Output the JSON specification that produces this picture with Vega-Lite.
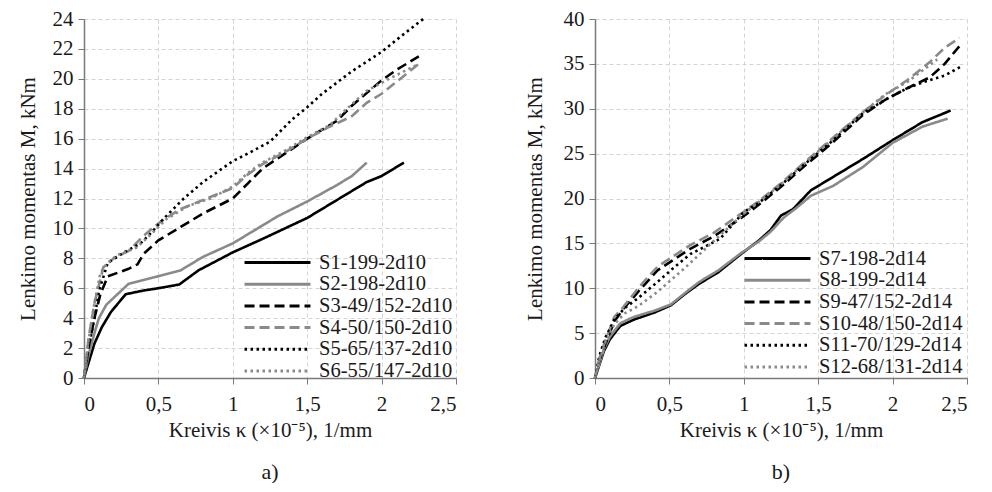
{
  "$schema": "https://vega.github.io/schema/vega-lite/v6.json",
  "padding": {"left": 17, "top": 8, "right": 5, "bottom": 0},
  "background": "white",
  "spacing": 67,
  "config": {
    "font": "Liberation Serif",
    "view": {"stroke": null},
    "axis": {
      "labelFont": "Liberation Serif", "titleFont": "Liberation Serif",
      "labelFontSize": 21, "titleFontSize": 21, "titleFontWeight": "normal",
      "labelColor": "#1a1a1a", "titleColor": "#1a1a1a",
      "gridDash": [4, 3], "gridColor": "#d4d4d4", "gridWidth": 1,
      "domainColor": "#7a7a7a", "domainWidth": 1.5, "tickColor": "#7a7a7a", "tickSize": 6
    },
    "legend": {
      "labelFont": "Liberation Serif", "labelFontSize": 20.5, "labelColor": "#1a1a1a",
      "symbolType": "M-3.77,0H3.77", "symbolSize": 306, "symbolStrokeWidth": 3,
      "rowPadding": 0.7, "labelOffset": 31, "orient": "none", "padding": 0,
      "labelLimit": 300
    },
    "title": {"font": "Liberation Serif", "fontSize": 22, "fontWeight": "normal", "color": "#1a1a1a", "orient": "bottom", "offset": 22}
  },
  "datasets": {
    "a": [
      {"s":"S1-199-2d10","x":0,"y":0},{"s":"S1-199-2d10","x":0.03,"y":1},{"s":"S1-199-2d10","x":0.07,"y":2.3},{"s":"S1-199-2d10","x":0.12,"y":3.4},{"s":"S1-199-2d10","x":0.18,"y":4.4},{"s":"S1-199-2d10","x":0.28,"y":5.6},{"s":"S1-199-2d10","x":0.4,"y":5.85},{"s":"S1-199-2d10","x":0.5,"y":6.0},{"s":"S1-199-2d10","x":0.64,"y":6.25},{"s":"S1-199-2d10","x":0.77,"y":7.2},{"s":"S1-199-2d10","x":1.0,"y":8.4},{"s":"S1-199-2d10","x":1.2,"y":9.3},{"s":"S1-199-2d10","x":1.5,"y":10.7},{"s":"S1-199-2d10","x":1.7,"y":11.9},{"s":"S1-199-2d10","x":1.9,"y":13.1},{"s":"S1-199-2d10","x":2.0,"y":13.5},{"s":"S1-199-2d10","x":2.15,"y":14.4},
      {"s":"S2-198-2d10","x":0,"y":0},{"s":"S2-198-2d10","x":0.03,"y":1.5},{"s":"S2-198-2d10","x":0.07,"y":3},{"s":"S2-198-2d10","x":0.1,"y":4},{"s":"S2-198-2d10","x":0.15,"y":4.9},{"s":"S2-198-2d10","x":0.3,"y":6.3},{"s":"S2-198-2d10","x":0.5,"y":6.8},{"s":"S2-198-2d10","x":0.65,"y":7.2},{"s":"S2-198-2d10","x":0.8,"y":8.1},{"s":"S2-198-2d10","x":1.0,"y":9.0},{"s":"S2-198-2d10","x":1.2,"y":10.2},{"s":"S2-198-2d10","x":1.3,"y":10.8},{"s":"S2-198-2d10","x":1.5,"y":11.8},{"s":"S2-198-2d10","x":1.7,"y":12.9},{"s":"S2-198-2d10","x":1.8,"y":13.5},{"s":"S2-198-2d10","x":1.9,"y":14.4},
      {"s":"S3-49/152-2d10","x":0,"y":0},{"s":"S3-49/152-2d10","x":0.03,"y":2},{"s":"S3-49/152-2d10","x":0.07,"y":4},{"s":"S3-49/152-2d10","x":0.11,"y":5.6},{"s":"S3-49/152-2d10","x":0.16,"y":6.8},{"s":"S3-49/152-2d10","x":0.3,"y":7.3},{"s":"S3-49/152-2d10","x":0.36,"y":7.6},{"s":"S3-49/152-2d10","x":0.4,"y":8.3},{"s":"S3-49/152-2d10","x":0.5,"y":9.2},{"s":"S3-49/152-2d10","x":0.65,"y":10.1},{"s":"S3-49/152-2d10","x":0.8,"y":11.0},{"s":"S3-49/152-2d10","x":1.0,"y":12.0},{"s":"S3-49/152-2d10","x":1.1,"y":13.0},{"s":"S3-49/152-2d10","x":1.2,"y":14.0},{"s":"S3-49/152-2d10","x":1.35,"y":15.0},{"s":"S3-49/152-2d10","x":1.5,"y":16.0},{"s":"S3-49/152-2d10","x":1.7,"y":17.2},{"s":"S3-49/152-2d10","x":1.8,"y":18.2},{"s":"S3-49/152-2d10","x":2.0,"y":19.9},{"s":"S3-49/152-2d10","x":2.1,"y":20.6},{"s":"S3-49/152-2d10","x":2.25,"y":21.5},
      {"s":"S4-50/150-2d10","x":0,"y":0},{"s":"S4-50/150-2d10","x":0.03,"y":2.6},{"s":"S4-50/150-2d10","x":0.07,"y":5},{"s":"S4-50/150-2d10","x":0.13,"y":7.4},{"s":"S4-50/150-2d10","x":0.2,"y":8.0},{"s":"S4-50/150-2d10","x":0.3,"y":8.5},{"s":"S4-50/150-2d10","x":0.4,"y":9.5},{"s":"S4-50/150-2d10","x":0.52,"y":10.5},{"s":"S4-50/150-2d10","x":0.65,"y":11.3},{"s":"S4-50/150-2d10","x":0.8,"y":11.9},{"s":"S4-50/150-2d10","x":1.0,"y":12.7},{"s":"S4-50/150-2d10","x":1.1,"y":13.6},{"s":"S4-50/150-2d10","x":1.2,"y":14.3},{"s":"S4-50/150-2d10","x":1.35,"y":15.1},{"s":"S4-50/150-2d10","x":1.5,"y":16.0},{"s":"S4-50/150-2d10","x":1.65,"y":16.8},{"s":"S4-50/150-2d10","x":1.8,"y":17.5},{"s":"S4-50/150-2d10","x":1.9,"y":18.4},{"s":"S4-50/150-2d10","x":2.0,"y":19.0},{"s":"S4-50/150-2d10","x":2.1,"y":19.8},{"s":"S4-50/150-2d10","x":2.25,"y":21.0},
      {"s":"S5-65/137-2d10","x":0,"y":0},{"s":"S5-65/137-2d10","x":0.03,"y":2},{"s":"S5-65/137-2d10","x":0.07,"y":4},{"s":"S5-65/137-2d10","x":0.1,"y":5.8},{"s":"S5-65/137-2d10","x":0.16,"y":7.7},{"s":"S5-65/137-2d10","x":0.27,"y":8.4},{"s":"S5-65/137-2d10","x":0.38,"y":9.0},{"s":"S5-65/137-2d10","x":0.46,"y":9.8},{"s":"S5-65/137-2d10","x":0.54,"y":10.7},{"s":"S5-65/137-2d10","x":0.67,"y":12.0},{"s":"S5-65/137-2d10","x":0.8,"y":13.1},{"s":"S5-65/137-2d10","x":1.0,"y":14.5},{"s":"S5-65/137-2d10","x":1.1,"y":15.0},{"s":"S5-65/137-2d10","x":1.25,"y":15.8},{"s":"S5-65/137-2d10","x":1.4,"y":17.3},{"s":"S5-65/137-2d10","x":1.5,"y":18.1},{"s":"S5-65/137-2d10","x":1.6,"y":19.0},{"s":"S5-65/137-2d10","x":1.8,"y":20.5},{"s":"S5-65/137-2d10","x":2.0,"y":21.8},{"s":"S5-65/137-2d10","x":2.15,"y":23.0},{"s":"S5-65/137-2d10","x":2.28,"y":24.0},
      {"s":"S6-55/147-2d10","x":0,"y":0},{"s":"S6-55/147-2d10","x":0.03,"y":2.5},{"s":"S6-55/147-2d10","x":0.07,"y":5},{"s":"S6-55/147-2d10","x":0.11,"y":7},{"s":"S6-55/147-2d10","x":0.15,"y":7.6},{"s":"S6-55/147-2d10","x":0.22,"y":8.2},{"s":"S6-55/147-2d10","x":0.35,"y":8.7},{"s":"S6-55/147-2d10","x":0.45,"y":9.6},{"s":"S6-55/147-2d10","x":0.55,"y":10.6},{"s":"S6-55/147-2d10","x":0.7,"y":11.5},{"s":"S6-55/147-2d10","x":0.85,"y":12.0},{"s":"S6-55/147-2d10","x":1.0,"y":12.8},{"s":"S6-55/147-2d10","x":1.1,"y":13.7},{"s":"S6-55/147-2d10","x":1.2,"y":14.4},{"s":"S6-55/147-2d10","x":1.35,"y":15.2},{"s":"S6-55/147-2d10","x":1.5,"y":16.1},{"s":"S6-55/147-2d10","x":1.65,"y":16.9},{"s":"S6-55/147-2d10","x":1.8,"y":18.3},{"s":"S6-55/147-2d10","x":1.9,"y":19.2},{"s":"S6-55/147-2d10","x":2.05,"y":20.0},{"s":"S6-55/147-2d10","x":2.25,"y":21.0}
    ],
    "b": [
      {"s":"S7-198-2d14","x":0,"y":0},{"s":"S7-198-2d14","x":0.03,"y":1.5},{"s":"S7-198-2d14","x":0.06,"y":3},{"s":"S7-198-2d14","x":0.1,"y":4.3},{"s":"S7-198-2d14","x":0.17,"y":5.8},{"s":"S7-198-2d14","x":0.26,"y":6.5},{"s":"S7-198-2d14","x":0.4,"y":7.3},{"s":"S7-198-2d14","x":0.51,"y":8.1},{"s":"S7-198-2d14","x":0.6,"y":9.3},{"s":"S7-198-2d14","x":0.7,"y":10.5},{"s":"S7-198-2d14","x":0.83,"y":11.8},{"s":"S7-198-2d14","x":0.98,"y":13.8},{"s":"S7-198-2d14","x":1.1,"y":15.3},{"s":"S7-198-2d14","x":1.18,"y":16.5},{"s":"S7-198-2d14","x":1.25,"y":18.1},{"s":"S7-198-2d14","x":1.33,"y":18.8},{"s":"S7-198-2d14","x":1.45,"y":20.9},{"s":"S7-198-2d14","x":1.6,"y":22.4},{"s":"S7-198-2d14","x":1.8,"y":24.4},{"s":"S7-198-2d14","x":2.0,"y":26.5},{"s":"S7-198-2d14","x":2.2,"y":28.5},{"s":"S7-198-2d14","x":2.39,"y":29.8},
      {"s":"S8-199-2d14","x":0,"y":0},{"s":"S8-199-2d14","x":0.03,"y":1.6},{"s":"S8-199-2d14","x":0.06,"y":3.2},{"s":"S8-199-2d14","x":0.1,"y":4.6},{"s":"S8-199-2d14","x":0.17,"y":6.1},{"s":"S8-199-2d14","x":0.26,"y":6.8},{"s":"S8-199-2d14","x":0.4,"y":7.5},{"s":"S8-199-2d14","x":0.51,"y":8.2},{"s":"S8-199-2d14","x":0.6,"y":9.4},{"s":"S8-199-2d14","x":0.7,"y":10.7},{"s":"S8-199-2d14","x":0.83,"y":12.0},{"s":"S8-199-2d14","x":0.98,"y":13.9},{"s":"S8-199-2d14","x":1.1,"y":15.2},{"s":"S8-199-2d14","x":1.18,"y":16.3},{"s":"S8-199-2d14","x":1.27,"y":17.9},{"s":"S8-199-2d14","x":1.35,"y":18.9},{"s":"S8-199-2d14","x":1.45,"y":20.3},{"s":"S8-199-2d14","x":1.6,"y":21.4},{"s":"S8-199-2d14","x":1.8,"y":23.5},{"s":"S8-199-2d14","x":2.0,"y":26.2},{"s":"S8-199-2d14","x":2.2,"y":28.0},{"s":"S8-199-2d14","x":2.37,"y":28.9},
      {"s":"S9-47/152-2d14","x":0,"y":0},{"s":"S9-47/152-2d14","x":0.03,"y":2},{"s":"S9-47/152-2d14","x":0.07,"y":3.8},{"s":"S9-47/152-2d14","x":0.13,"y":6.3},{"s":"S9-47/152-2d14","x":0.19,"y":7.7},{"s":"S9-47/152-2d14","x":0.3,"y":9.8},{"s":"S9-47/152-2d14","x":0.42,"y":12.0},{"s":"S9-47/152-2d14","x":0.53,"y":13.2},{"s":"S9-47/152-2d14","x":0.64,"y":14.4},{"s":"S9-47/152-2d14","x":0.8,"y":15.8},{"s":"S9-47/152-2d14","x":0.98,"y":17.8},{"s":"S9-47/152-2d14","x":1.1,"y":19.3},{"s":"S9-47/152-2d14","x":1.25,"y":21.3},{"s":"S9-47/152-2d14","x":1.4,"y":23.5},{"s":"S9-47/152-2d14","x":1.58,"y":26.0},{"s":"S9-47/152-2d14","x":1.8,"y":29.3},{"s":"S9-47/152-2d14","x":1.95,"y":31.0},{"s":"S9-47/152-2d14","x":2.1,"y":32.3},{"s":"S9-47/152-2d14","x":2.25,"y":33.5},{"s":"S9-47/152-2d14","x":2.35,"y":35.0},{"s":"S9-47/152-2d14","x":2.45,"y":37.0},
      {"s":"S10-48/150-2d14","x":0,"y":0},{"s":"S10-48/150-2d14","x":0.03,"y":2.2},{"s":"S10-48/150-2d14","x":0.07,"y":4.2},{"s":"S10-48/150-2d14","x":0.13,"y":6.8},{"s":"S10-48/150-2d14","x":0.19,"y":7.9},{"s":"S10-48/150-2d14","x":0.3,"y":10.2},{"s":"S10-48/150-2d14","x":0.42,"y":12.4},{"s":"S10-48/150-2d14","x":0.53,"y":13.6},{"s":"S10-48/150-2d14","x":0.64,"y":14.8},{"s":"S10-48/150-2d14","x":0.8,"y":16.2},{"s":"S10-48/150-2d14","x":0.98,"y":18.3},{"s":"S10-48/150-2d14","x":1.1,"y":19.7},{"s":"S10-48/150-2d14","x":1.25,"y":21.7},{"s":"S10-48/150-2d14","x":1.4,"y":23.9},{"s":"S10-48/150-2d14","x":1.58,"y":26.5},{"s":"S10-48/150-2d14","x":1.8,"y":29.6},{"s":"S10-48/150-2d14","x":1.95,"y":31.5},{"s":"S10-48/150-2d14","x":2.1,"y":33.2},{"s":"S10-48/150-2d14","x":2.25,"y":35.2},{"s":"S10-48/150-2d14","x":2.35,"y":36.8},{"s":"S10-48/150-2d14","x":2.45,"y":37.9},
      {"s":"S11-70/129-2d14","x":0,"y":0},{"s":"S11-70/129-2d14","x":0.03,"y":2.5},{"s":"S11-70/129-2d14","x":0.07,"y":4.5},{"s":"S11-70/129-2d14","x":0.13,"y":6.5},{"s":"S11-70/129-2d14","x":0.2,"y":7.8},{"s":"S11-70/129-2d14","x":0.29,"y":8.9},{"s":"S11-70/129-2d14","x":0.42,"y":10.7},{"s":"S11-70/129-2d14","x":0.53,"y":12.3},{"s":"S11-70/129-2d14","x":0.64,"y":13.8},{"s":"S11-70/129-2d14","x":0.84,"y":15.5},{"s":"S11-70/129-2d14","x":1.0,"y":18.5},{"s":"S11-70/129-2d14","x":1.1,"y":19.5},{"s":"S11-70/129-2d14","x":1.25,"y":21.5},{"s":"S11-70/129-2d14","x":1.4,"y":23.7},{"s":"S11-70/129-2d14","x":1.58,"y":26.2},{"s":"S11-70/129-2d14","x":1.8,"y":29.5},{"s":"S11-70/129-2d14","x":1.95,"y":31.0},{"s":"S11-70/129-2d14","x":2.1,"y":32.3},{"s":"S11-70/129-2d14","x":2.23,"y":33.1},{"s":"S11-70/129-2d14","x":2.35,"y":33.7},{"s":"S11-70/129-2d14","x":2.47,"y":34.8},
      {"s":"S12-68/131-2d14","x":0,"y":0},{"s":"S12-68/131-2d14","x":0.03,"y":2},{"s":"S12-68/131-2d14","x":0.07,"y":4},{"s":"S12-68/131-2d14","x":0.13,"y":6},{"s":"S12-68/131-2d14","x":0.2,"y":7.2},{"s":"S12-68/131-2d14","x":0.29,"y":8.0},{"s":"S12-68/131-2d14","x":0.42,"y":9.6},{"s":"S12-68/131-2d14","x":0.6,"y":12.2},{"s":"S12-68/131-2d14","x":0.8,"y":15.3},{"s":"S12-68/131-2d14","x":1.0,"y":18.3},{"s":"S12-68/131-2d14","x":1.1,"y":19.6},{"s":"S12-68/131-2d14","x":1.25,"y":21.6},{"s":"S12-68/131-2d14","x":1.4,"y":23.8},{"s":"S12-68/131-2d14","x":1.58,"y":26.4},{"s":"S12-68/131-2d14","x":1.8,"y":29.6},{"s":"S12-68/131-2d14","x":1.95,"y":31.6},{"s":"S12-68/131-2d14","x":2.1,"y":33.0},{"s":"S12-68/131-2d14","x":2.3,"y":35.5}
    ]
  },
  "hconcat": [
    {
      "width": 372, "height": 359,
      "title": "a)",
      "data": {"name": "a"},
      "mark": {"type": "line", "strokeWidth": 2.6, "strokeCap": "butt"},
      "encoding": {
        "x": {"field": "x", "type": "quantitative", "scale": {"domain": [0, 2.5], "nice": false},
              "axis": {"values": [0, 0.5, 1, 1.5, 2, 2.5], "labelExpr": "replace(format(datum.value, '~g'), '.', ',')", "title": "Kreivis κ (×10⁻⁵), 1/mm", "titlePadding": 5, "labelPadding": 9}},
        "y": {"field": "y", "type": "quantitative", "scale": {"domain": [0, 24], "nice": false},
              "axis": {"values": [0,2,4,6,8,10,12,14,16,18,20,22,24], "title": "Lenkimo momentas M, kNm", "titlePadding": 14, "labelPadding": 5}},
        "color": {"field": "s", "type": "nominal",
                  "legend": {"title": null, "legendX": 183, "legendY": 233},
                  "scale": {"domain": ["S1-199-2d10","S2-198-2d10","S3-49/152-2d10","S4-50/150-2d10","S5-65/137-2d10","S6-55/147-2d10"],
                            "range": ["#000000","#8a8a8a","#000000","#8a8a8a","#000000","#8a8a8a"]}},
        "strokeDash": {"field": "s", "type": "nominal",
                  "legend": {"title": null, "legendX": 183, "legendY": 233},
                  "scale": {"domain": ["S1-199-2d10","S2-198-2d10","S3-49/152-2d10","S4-50/150-2d10","S5-65/137-2d10","S6-55/147-2d10"],
                            "range": [[1,0],[1,0],[10,5],[10,5],[2.5,3.5],[2.5,3.5]]}}
      }
    },
    {
      "width": 372, "height": 359,
      "title": "b)",
      "data": {"name": "b"},
      "mark": {"type": "line", "strokeWidth": 2.6, "strokeCap": "butt"},
      "encoding": {
        "x": {"field": "x", "type": "quantitative", "scale": {"domain": [0, 2.5], "nice": false},
              "axis": {"values": [0, 0.5, 1, 1.5, 2, 2.5], "labelExpr": "replace(format(datum.value, '~g'), '.', ',')", "title": "Kreivis κ (×10⁻⁵), 1/mm", "titlePadding": 5, "labelPadding": 9}},
        "y": {"field": "y", "type": "quantitative", "scale": {"domain": [0, 40], "nice": false},
              "axis": {"values": [0,5,10,15,20,25,30,35,40], "title": "Lenkimo momentas M, kNm", "titlePadding": 18, "labelPadding": 5}},
        "color": {"field": "s", "type": "nominal",
                  "legend": {"title": null, "legendX": 172, "legendY": 229},
                  "scale": {"domain": ["S7-198-2d14","S8-199-2d14","S9-47/152-2d14","S10-48/150-2d14","S11-70/129-2d14","S12-68/131-2d14"],
                            "range": ["#000000","#8a8a8a","#000000","#8a8a8a","#000000","#8a8a8a"]}},
        "strokeDash": {"field": "s", "type": "nominal",
                  "legend": {"title": null, "legendX": 172, "legendY": 229},
                  "scale": {"domain": ["S7-198-2d14","S8-199-2d14","S9-47/152-2d14","S10-48/150-2d14","S11-70/129-2d14","S12-68/131-2d14"],
                            "range": [[1,0],[1,0],[10,5],[10,5],[2.5,3.5],[2.5,3.5]]}}
      }
    }
  ],
  "resolve": {"scale": {"color": "independent", "strokeDash": "independent"}, "legend": {"color": "independent", "strokeDash": "independent"}}
}
